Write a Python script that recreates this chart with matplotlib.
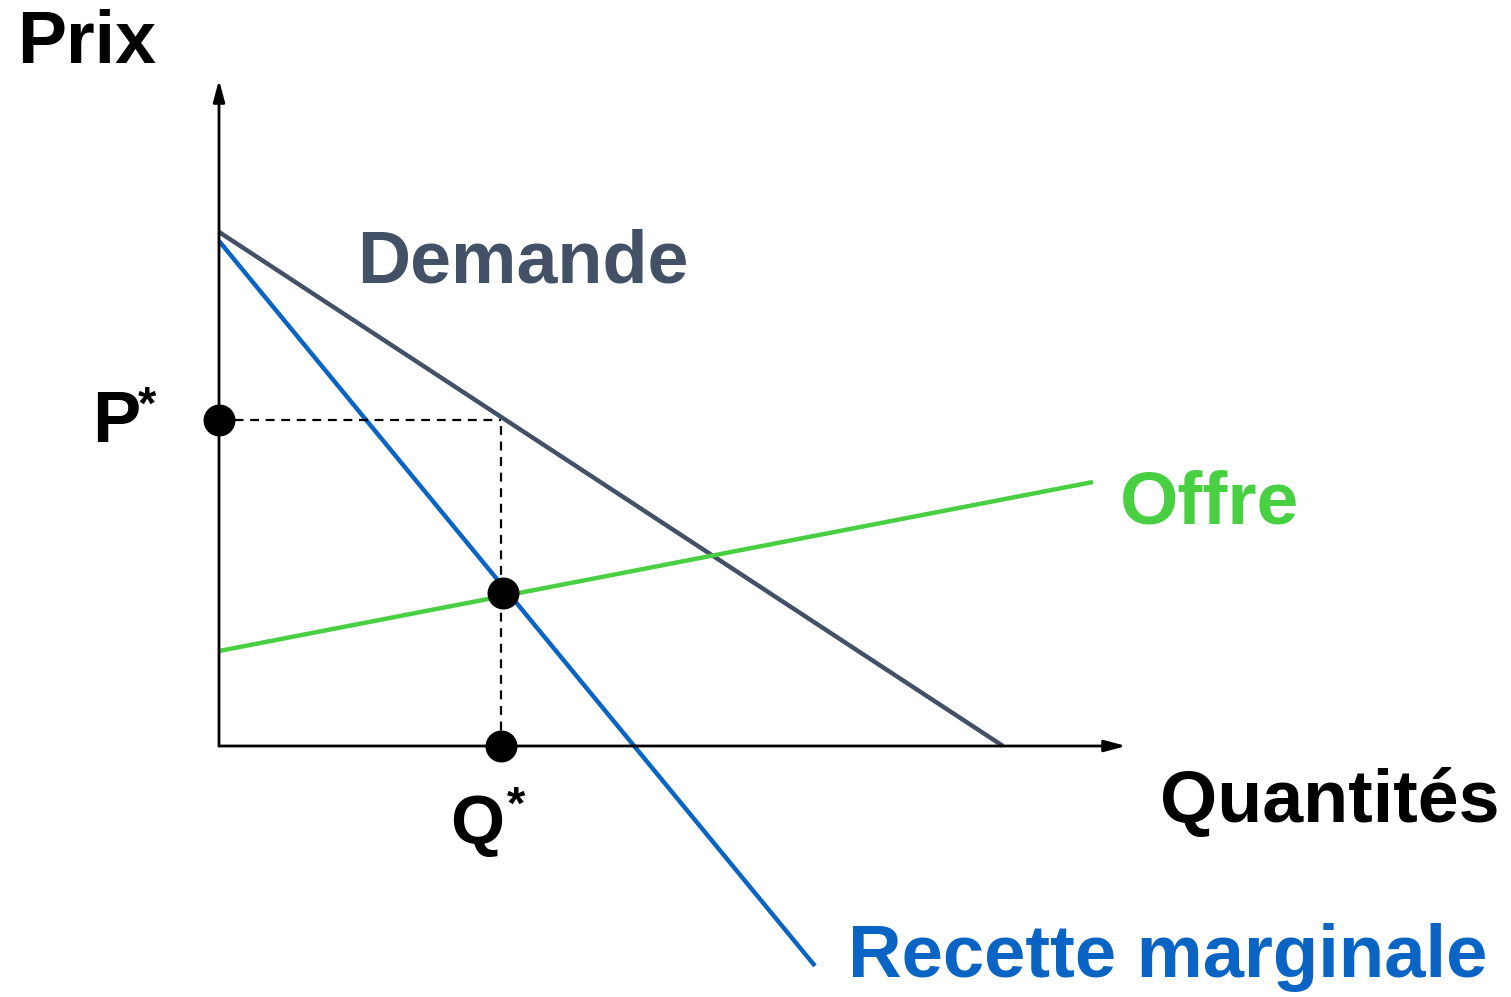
import matplotlib
matplotlib.use("Agg")
import matplotlib.pyplot as plt

# units: 1 = 100 px of the original drawing, origin at the axes corner
demand_q = [0.0, 7.84]
demand_p = [5.14, 0.0]
mr_q = [0.0, 5.96]
mr_p = [5.05, -2.20]
supply_q = [0.0, 8.74]
supply_p = [0.95, 2.64]

q_star = 2.82
p_star = 3.26
p_mc = 1.53
x_max = 9.07
y_max = 6.66

FONT = "Liberation Sans"
DEMAND_COLOR = "#435167"
MR_COLOR = "#0a64c3"
SUPPLY_COLOR = "#48cf42"

fig = plt.figure(figsize=(15.11, 9.97), dpi=100)
ax = fig.add_axes([0, 0, 1, 1])
ax.set_xlim(-2.19, 12.92)
ax.set_ylim(-2.51, 7.46)
ax.axis("off")

# axes with arrows
arrow = dict(arrowstyle="-|>,head_length=1.3,head_width=0.35", color="black",
             lw=2, shrinkA=0, shrinkB=0)
ax.annotate("", xy=(0, y_max), xytext=(0, 0), arrowprops=arrow)
ax.annotate("", xy=(x_max, 0), xytext=(0, 0), arrowprops=arrow)

# curves
ax.plot(demand_q, demand_p, color=DEMAND_COLOR, lw=3.2, solid_capstyle="butt")
ax.plot(mr_q, mr_p, color=MR_COLOR, lw=3.2, solid_capstyle="butt")
ax.plot(supply_q, supply_p, color=SUPPLY_COLOR, lw=3.2, solid_capstyle="butt")

# dashed guides
ax.plot([0, q_star], [p_star, p_star], color="black", lw=1.6, ls=(0, (4, 3)))
ax.plot([q_star, q_star], [0, p_star], color="black", lw=1.6, ls=(0, (4, 3)))

# points
ax.plot([0, q_star, q_star + 0.02], [p_star, 0, p_mc], "o", color="black",
        ms=22, zorder=5)

# labels
ax.text(-2.02, 6.83, "Prix", fontsize=53, fontweight="bold", family=FONT,
        ha="left", va="baseline")
ax.text(9.41, -0.76, "Quantités", fontsize=53, fontweight="bold", family=FONT,
        ha="left", va="baseline")
ax.text(1.38, 4.63, "Demande", fontsize=53, fontweight="bold", family=FONT,
        color=DEMAND_COLOR, ha="left", va="baseline")
ax.text(9.01, 2.23, "Offre", fontsize=54, fontweight="bold", family=FONT,
        color=SUPPLY_COLOR, ha="left", va="baseline")
ax.text(6.29, -2.31, "Recette marginale", fontsize=53.5, fontweight="bold",
        family=FONT, color=MR_COLOR, ha="left", va="baseline")
ax.text(-1.27, 3.04, r"P", fontsize=52, fontweight="bold", family=FONT,
        ha="left", va="baseline")
ax.text(-0.81, 3.27, "*", fontsize=34, fontweight="bold", family=FONT,
        ha="left", va="baseline")
ax.text(2.31, -0.97, "Q", fontsize=50, fontweight="bold", family=FONT,
        ha="left", va="baseline")
ax.text(2.88, -0.73, "*", fontsize=34, fontweight="bold", family=FONT,
        ha="left", va="baseline")

fig.savefig("out.png", dpi=100, facecolor="white")
